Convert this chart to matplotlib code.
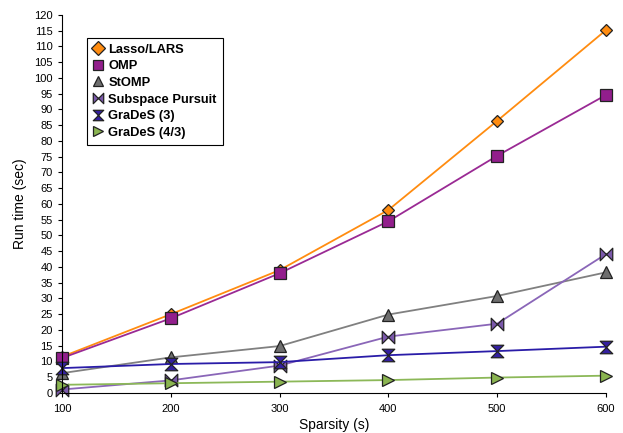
import numpy as np
import matplotlib
matplotlib.use('Agg')
from matplotlib import pyplot as plt
from matplotlib.path import Path

plt.rcParams['font.family'] = ['Liberation Sans', 'DejaVu Sans']

sparsity = [100, 200, 300, 400, 500, 600]
lasso = [11.5, 25.0, 39.0, 58.1, 86.4, 115.2]
omp = [11.1, 23.7, 38.0, 54.5, 75.3, 94.6]
stomp = [6.3, 11.3, 14.9, 24.9, 30.8, 38.3]
subspace = [1.1, 4.0, 8.7, 17.9, 22.0, 44.1]
grades3 = [7.9, 9.2, 9.8, 12.0, 13.3, 14.7]
grades43 = [2.6, 3.1, 3.6, 4.1, 4.9, 5.5]
names = ['Lasso/LARS', 'OMP', 'StOMP', 'Subspace Pursuit', 'GraDeS (3)', 'GraDeS (4/3)']

# bowtie (horizontal) and hourglass (vertical) markers
bowtie = Path([(-1, 1), (0, 0), (-1, -1), (-1, 1), (1, 1), (0, 0), (1, -1), (1, 1)],
              [1, 2, 2, 79, 1, 2, 2, 79])
hourglass = Path([(-1, 1), (0, 0), (1, 1), (-1, 1), (-1, -1), (0, 0), (1, -1), (-1, -1)],
                 [1, 2, 2, 79, 1, 2, 2, 79])

series = [lasso, omp, stomp, subspace, grades3, grades43]
line_cols = ['#FF8C10', '#9A2A94', '#808080', '#8A66B8', '#2A1CA8', '#8CB858']
face_cols = ['#FF8C10', '#921E8C', '#6E6E6E', '#7A58AA', '#3420A0', '#8AB450']
markers = ['D', 's', '^', bowtie, hourglass, '>']
sizes = [6, 9, 8.5, 9, 9, 9]

fig = plt.figure(figsize=(6.23, 4.33), dpi=100)
ax = fig.add_axes([0.0995, 0.0924, 0.8732, 0.873])

for y, lc, fc, m, ms, n in zip(series, line_cols, face_cols, markers, sizes, names):
    ax.plot(sparsity, y, color=lc, lw=1.3, marker=m, ms=ms, mfc=fc,
            mec='#222222', mew=0.9, label=n, clip_on=False)

ax.set_xlim(100, 600)
ax.set_ylim(0, 120)
ax.set_xticks(sparsity)
ax.set_yticks(np.arange(0, 121, 5))
ax.spines['top'].set_visible(False)
ax.spines['right'].set_visible(False)
ax.tick_params(labelsize=8, length=3, width=0.8)
ax.tick_params(axis='x', pad=5)
ax.set_xlabel('Sparsity (s)', fontsize=10, labelpad=3)
ax.set_ylabel('Run time (sec)', fontsize=10, labelpad=5)

leg = ax.legend(loc='upper left', bbox_to_anchor=(0.046, 0.94), fancybox=False,
                edgecolor='black', framealpha=1, prop={'weight': 'bold', 'size': 9.3},
                handlelength=0.8, handletextpad=0.4, labelspacing=0.36,
                borderpad=0.45, borderaxespad=0)
leg.get_frame().set_linewidth(0.8)
for h in leg.legend_handles:
    h.set_linestyle('none')
    h.set_markersize(7.5)

fig.savefig('out.png', dpi=100)
